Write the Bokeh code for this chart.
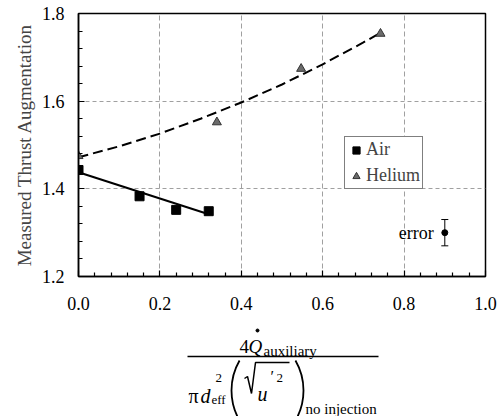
from bokeh.plotting import figure
from bokeh.models import (Range1d, FixedTicker, PrintfTickFormatter, Legend, LegendItem,
                          ColumnDataSource, Whisker, TeeHead)
from bokeh.layouts import column
from bokeh.embed import file_html
from bokeh.resources import INLINE
from bokeh.core.properties import value

# ---------------- data ----------------
air_x = [0.0, 0.15, 0.24, 0.32]
air_y = [1.443, 1.383, 1.352, 1.349]
he_x = [0.0, 0.34, 0.547, 0.742]
he_y = [1.475, 1.552, 1.674, 1.754]
air_fit_x = [0.0, 0.32]
air_fit_y = [1.438, 1.342]
he_fit_x = [0.0, 0.1, 0.2, 0.3, 0.4, 0.5, 0.6, 0.7, 0.74]
he_fit_y = [1.472, 1.497, 1.526, 1.560, 1.597, 1.638, 1.684, 1.734, 1.755]
err_x = [0.9]
err_y = [1.30]
err_half = [0.03]
x_ticks = [0.0, 0.2, 0.4, 0.6, 0.8, 1.0]
x_minor = [0.04, 0.08, 0.12, 0.16, 0.24, 0.28, 0.32, 0.36, 0.44, 0.48, 0.52, 0.56,
           0.64, 0.68, 0.72, 0.76, 0.84, 0.88, 0.92, 0.96]
y_ticks = [1.2, 1.4, 1.6, 1.8]
y_minor = [1.24, 1.28, 1.32, 1.36, 1.44, 1.48, 1.52, 1.56, 1.64, 1.68, 1.72, 1.76]
series_labels = ["Air", "Helium"]
ylabel = "Measured Thrust Augmentation"

SERIF = "Liberation Serif"
QSERIF = "'Liberation Serif', serif"

p = figure(width=501, height=318, x_range=Range1d(0, 1.0), y_range=Range1d(1.2, 1.8),
           output_backend="svg", toolbar_location=None,
           min_border_left=78, min_border_right=16, min_border_top=13, min_border_bottom=42)
p.background_fill_color = "white"
p.outline_line_color = "black"
p.outline_line_width = 1.5

p.xaxis.ticker = FixedTicker(ticks=x_ticks, minor_ticks=x_minor)
p.yaxis.ticker = FixedTicker(ticks=y_ticks, minor_ticks=y_minor)
p.axis.formatter = PrintfTickFormatter(format="%.1f")
p.axis.major_tick_in = 6
p.axis.major_tick_out = 0
p.axis.minor_tick_in = 4
p.axis.minor_tick_out = 0
p.axis.axis_line_width = 1.5
p.axis.major_tick_line_width = 1.2
p.axis.minor_tick_line_width = 1.2
p.axis.major_label_text_font = QSERIF
p.axis.major_label_text_font_size = "18px"
p.axis.major_label_text_color = "black"
p.xaxis.major_label_standoff = 20
p.yaxis.major_label_standoff = 14
p.yaxis.axis_label = ylabel
p.yaxis.axis_label_text_font = QSERIF
p.yaxis.axis_label_text_font_style = "normal"
p.yaxis.axis_label_text_font_size = "19px"
p.yaxis.axis_label_standoff = 4

p.grid.grid_line_color = "#a0a0a0"
p.grid.grid_line_width = 1
p.xgrid.grid_line_dash = "5 3"
p.ygrid.grid_line_dash = "4 3"

p.line(air_fit_x, air_fit_y, line_color="black", line_width=2)
p.line(he_fit_x, he_fit_y, line_color="black", line_width=2, line_dash="10 5")

r_air = p.scatter(air_x, air_y, marker="square", size=9, fill_color="black", line_color="black")
r_he = p.scatter(he_x, he_y, marker="triangle", size=9, fill_color="#6b6b6b", line_color="#333333")

lower = [y - e for y, e in zip(err_y, err_half)]
upper = [y + e for y, e in zip(err_y, err_half)]
esrc = ColumnDataSource(dict(x=err_x, lower=lower, upper=upper))
p.add_layout(Whisker(base="x", lower="lower", upper="upper", dimension="height", source=esrc,
                     line_color="black", line_width=1,
                     upper_head=TeeHead(size=7, line_color="black", line_width=1),
                     lower_head=TeeHead(size=7, line_color="black", line_width=1)))
p.scatter(err_x, err_y, marker="circle", size=6, color="black")
p.text(x=err_x, y=err_y, text=["error"], x_offset=-11, text_align="right", text_baseline="middle",
       text_font=value(SERIF), text_font_size="18px", text_color="black")

legend = Legend(items=[LegendItem(label=series_labels[0], renderers=[r_air]),
                       LegendItem(label=series_labels[1], renderers=[r_he])],
                location=(266, 87), border_line_color="black", border_line_width=1,
                background_fill_color="white", background_fill_alpha=1,
                padding=2, margin=0, spacing=5, glyph_width=18, glyph_height=20,
                label_height=20, label_standoff=1,
                label_text_font=QSERIF, label_text_font_size="18px")
p.add_layout(legend)

# ---------------- x-axis label: the fraction (1 unit = 1 px) ----------------
q = figure(width=501, height=98, x_range=Range1d(78, 485), y_range=Range1d(98, 0),
           output_backend="svg", toolbar_location=None,
           min_border_left=78, min_border_right=16, min_border_top=0, min_border_bottom=0,
           x_axis_location=None, y_axis_location=None)
q.grid.visible = False
q.outline_line_color = None

def txt(xs, ys, texts, size, style="normal"):
    q.text(x=xs, y=ys, text=texts, text_align="left", text_baseline="alphabetic",
           text_font=value(SERIF), text_font_size=size, text_font_style=style, text_color="black")

# numerator
txt([239], [28], ["4"], "19px")
txt([248], [28], ["Q"], "19px", "italic")
q.scatter([257], [12], marker="circle", size=3, color="black")
txt([263], [32], ["auxiliary"], "15px")
# fraction bar
q.segment(x0=[187], y0=[38], x1=[378], y1=[38], line_color="black", line_width=1.6)
# denominator
txt([188], [77], ["\u03c0"], "20px")
txt([200], [77], ["d"], "20px", "italic")
txt([215], [59], ["2"], "13px")
txt([211], [81], ["eff"], "13px")
q.arc(x=[291], y=[72], radius=60, start_angle=150, end_angle=210, start_angle_units="deg",
      end_angle_units="deg", direction="anticlock", line_color="black", line_width=1.8)
q.line([244, 247, 251, 255, 289], [60, 58, 75, 44, 44], line_color="black", line_width=1.5)
txt([257], [75], ["u"], "20px", "italic")
txt([270], [58], ["\u2032"], "16px")
txt([276], [59], ["2"], "13px")
q.arc(x=[243], y=[72], radius=60, start_angle=-30, end_angle=30, start_angle_units="deg",
      end_angle_units="deg", direction="anticlock", line_color="black", line_width=1.8)
txt([305], [90], ["no injection"], "15px")

layout = column(p, q, spacing=0)
open("out.html", "w").write(file_html(layout, INLINE))
